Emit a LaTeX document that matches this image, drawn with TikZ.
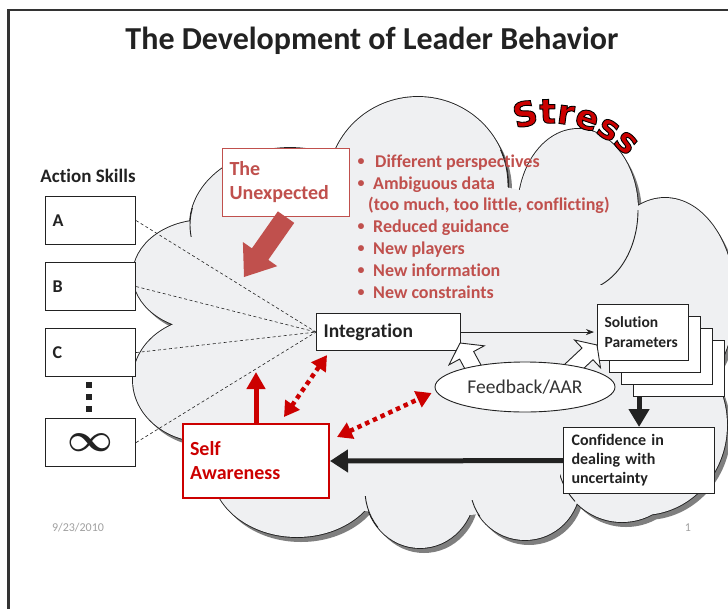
\documentclass[tikz,border=0pt]{standalone}
\usepackage{fontspec}
\setmainfont{Carlito}[Ligatures=NoCommon]
\newfontfamily\stressfont{DejaVu Sans}
\usetikzlibrary{arrows.meta,calc,shapes.geometric,decorations.text}
\definecolor{cloudfill}{HTML}{EFF0F2}
\definecolor{shadowc}{HTML}{7F7F7F}
\definecolor{lightred}{HTML}{C0504D}
\definecolor{darkred}{HTML}{CC0000}
\definecolor{ink}{HTML}{222222}
\definecolor{framec}{HTML}{333333}
\definecolor{footc}{HTML}{A0A0A0}
\newcommand\cloudpath{(297,470) ellipse [x radius=85pt,y radius=67pt]
 (420,490) ellipse [x radius=55pt,y radius=58pt]
 (525,485) ellipse [x radius=55pt,y radius=55pt]
 (622,455) ellipse [x radius=65pt,y radius=67pt]
 (642,425) ellipse [x radius=85pt,y radius=90pt]
 (665,300) ellipse [x radius=70pt,y radius=102pt]
 (578,210) ellipse [x radius=60pt,y radius=81pt]
 (418,185) ellipse [x radius=90pt,y radius=88pt]
 (290,225) ellipse [x radius=100pt,y radius=77pt]
 (205,275) ellipse [x radius=72pt,y radius=55pt]
 (205,380) ellipse [x radius=72pt,y radius=62pt]}
\newcommand\corepath{(210,300) -- (290,220) -- (420,170) -- (570,200) -- (650,300) -- (680,420) -- (620,490) -- (520,510) -- (420,520) -- (300,500) -- (210,400) -- cycle}
\newcommand\blockarrow[6][]{%
 \coordinate (bah) at ($(#3)!#4!(#2)$);
 \path[#1] ($(#2)!#6!90:(#3)$) -- ($(bah)!#6!90:(#3)$) -- ($(bah)!#5!90:(#3)$) -- (#3) -- ($(bah)!#5!-90:(#3)$) -- ($(bah)!#6!-90:(#3)$) -- ($(#2)!#6!-90:(#3)$) -- cycle;
}
\newcommand\stressfmt{\stressfont\fontsize{34}{34}\selectfont\bfseries\color{darkred}\special{pdf:literal direct 0 0 0 RG 0.9 w 2 Tr}}
\tikzset{
 skill/.style={draw=ink, line width=1.1pt, fill=white, minimum width=90pt, minimum height=48pt, anchor=north west, inner xsep=7pt, text width=76pt, align=left, font=\fontsize{18}{20}\selectfont\bfseries, text=ink},
 solbox/.style={draw=ink, line width=1.1pt, fill=white, minimum width=91pt, minimum height=56pt, anchor=north west, inner xsep=7pt, text width=77pt, align=left, font=\fontsize{15.5}{20}\selectfont\bfseries, text=ink},
 bullettext/.style={anchor=base west, inner sep=0pt, text=lightred, font=\fontsize{18}{20}\selectfont\bfseries},
 dotarrow/.style={draw=darkred, line width=4.5pt, dash pattern=on 4.5pt off 4pt, {Triangle[length=15pt,width=17pt]}-{Triangle[length=15pt,width=17pt]}},
 stub/.style={ink, line width=0.9pt},
}
\begin{document}
\begin{tikzpicture}[x=1pt,y=-1pt]
\useasboundingbox (0,0) rectangle (728,608);
\fill[white] (0,0) rectangle (728,608);
% frame
\draw[framec, line width=2.2pt] (8.5,610) -- (8.5,10) -- (730,10);
% title
\node[font=\fontsize{32}{34}\selectfont\bfseries, text=ink] (title) at (372,41) {The Development of Leader Behavior};
% footer
\node[font=\fontsize{12}{14}\selectfont, text=footc] (date) at (78,528) {9/23/2010};
\node[font=\fontsize{12}{14}\selectfont, text=footc] (page) at (688,528) {1};
% cloud
\fill[shadowc, shift={(4pt,-5pt)}] \cloudpath;
\draw[ink, line width=1.8pt] \cloudpath;
\fill[cloudfill] \cloudpath;
\fill[cloudfill] \corepath;
% inner arc stubs of the cloud
\begin{scope}\clip (362,496) rectangle (378,532); \draw[stub] (420,490) ellipse [x radius=55pt,y radius=58pt]; \end{scope}
\begin{scope}\clip (467,500) rectangle (480,540); \draw[stub] (525,485) ellipse [x radius=55pt,y radius=55pt]; \end{scope}
\begin{scope}\clip (560,474) rectangle (575,512); \draw[stub] (622,455) ellipse [x radius=65pt,y radius=67pt]; \end{scope}
\begin{scope}\clip (600,210) rectangle (640,284); \draw[stub] (578,210) ellipse [x radius=60pt,y radius=81pt]; \end{scope}
\begin{scope}\clip (494,150) rectangle (510,186); \draw[stub] (418,185) ellipse [x radius=90pt,y radius=88pt]; \end{scope}
\begin{scope}\clip (186,208) rectangle (200,236); \draw[stub] (290,225) ellipse [x radius=100pt,y radius=77pt]; \end{scope}
% Stress along an arc
\coordinate (stressstart) at (515.5,129.5);
\path[decorate, decoration={text along path, text align=center, text={|\stressfmt|Stress}}] (stressstart) arc[start angle=110, end angle=42, radius=103pt];
% Action skills
\node[font=\fontsize{19}{20}\selectfont\bfseries, text=ink] (as) at (88,176) {Action Skills};
\node[skill] (A) at (45,196) {A};
\node[skill] (B) at (45,262) {B};
\node[skill] (C) at (45,328) {C};
\node[skill, align=center] (inf) at (45,418) {{\boldmath\scalebox{2.3}{$\infty$}}};
\foreach \yy in {385,397,409} \fill[ink] (86,\yy-3) rectangle (92,\yy+3);
% Integration
\node[draw=ink, fill=white, line width=1.1pt, anchor=north west, minimum width=144pt, minimum height=37pt, inner xsep=7pt, text width=130pt, align=left, font=\fontsize{19.5}{20}\selectfont\bfseries, text=ink] (integ) at (316,313) {Integration};
\foreach \n in {A,B,C,inf} \draw[ink, line width=0.6pt, dash pattern=on 3pt off 2.5pt] (\n.east) -- (integ.west);
% Unexpected
\node[draw=lightred, fill=white, line width=1.1pt, anchor=north west, minimum width=127pt, minimum height=68pt, inner xsep=7pt, text width=113pt, align=left, font=\fontsize{20}{24}\selectfont\bfseries, text=lightred] (unexp) at (222,148) {The\\Unexpected};
\coordinate (uat) at (244,277);
\blockarrow[fill=lightred]{unexp.south}{uat}{28pt}{21pt}{10pt}
% bullets
\foreach \yy/\xx/\tx/\bb in {167/375/{Different perspectives}/1, 189/373/{Ambiguous data}/1, 210/368/{(too much, too little, conflicting)}/0, 232/373/{Reduced guidance}/1, 254/373/{New players}/1, 276/373/{New information}/1, 298/373/{New constraints}/1}{
  \node[bullettext] at (\xx,\yy) {\tx};
  \ifnum\bb=1 \node[bullettext, anchor=base, font=\fontsize{14}{14}\selectfont\bfseries] at (361,\yy-2) {•};\fi
}
% Solution stack
\node[solbox] (sol3) at (633,340) {};
\node[solbox] (sol2) at (621,328) {};
\node[solbox] (sol1) at (609,316) {};
\node[solbox] (sol) at (597,304) {Solution\\Parameters};
\draw[ink, line width=0.8pt, -{Stealth[length=8pt,width=6pt]}] (integ.east) -- ($(sol.west|-integ.east)+(-3,0)$);
% Feedback
\coordinate (fl-s) at (480,380); \coordinate (fl-t) at (460,343);
\coordinate (fr-s) at (566,374); \coordinate (fr-t) at (597,345);
\blockarrow[fill=white, draw=ink, line width=0.9pt]{fl-s}{fl-t}{14pt}{20pt}{8pt}
\blockarrow[fill=white, draw=ink, line width=0.9pt]{fr-s}{fr-t}{13pt}{19pt}{8pt}
\node[ellipse, draw=ink, fill=white, line width=0.9pt, minimum width=180pt, minimum height=50pt, inner sep=0pt, font=\fontsize{19.5}{20}\selectfont, text=framec] (fb) at (525,387) {Feedback/AAR};
% Confidence
\node[draw=ink, fill=white, line width=1.1pt, anchor=north west, minimum width=151pt, minimum height=66pt, inner xsep=8pt, text width=135pt, align=left, font=\fontsize{16}{19}\selectfont\bfseries, text=ink] (conf) at (563,427) {Confidence in\\dealing with\\uncertainty};
% Self awareness
\node[draw=darkred, fill=white, line width=2pt, anchor=north west, minimum width=146pt, minimum height=74pt, inner xsep=7pt, text width=132pt, align=left, font=\fontsize{20}{24}\selectfont\bfseries, text=darkred] (self) at (182,423) {Self\\Awareness};
% arrows
\draw[ink, line width=5pt, -{Triangle[length=18pt,width=20pt]}] (conf.north|-sol3.south) -- (conf.north);
\draw[ink, line width=5pt, -{Triangle[length=18pt,width=22pt]}] (conf.west) -- (self.east);
\coordinate (saup) at ($(self.north)+(0,-51)$);
\draw[darkred, line width=5pt, -{Triangle[length=17pt,width=18pt]}] (self.north) -- (saup);
\draw[dotarrow] ($(self.north)+(28,-6)$) -- ($(integ.south west)+(11,4)$);
\draw[dotarrow] ($(self.north east)+(7,14)$) -- ($(fb.west)+(-3,6)$);
\end{tikzpicture}
\end{document}
